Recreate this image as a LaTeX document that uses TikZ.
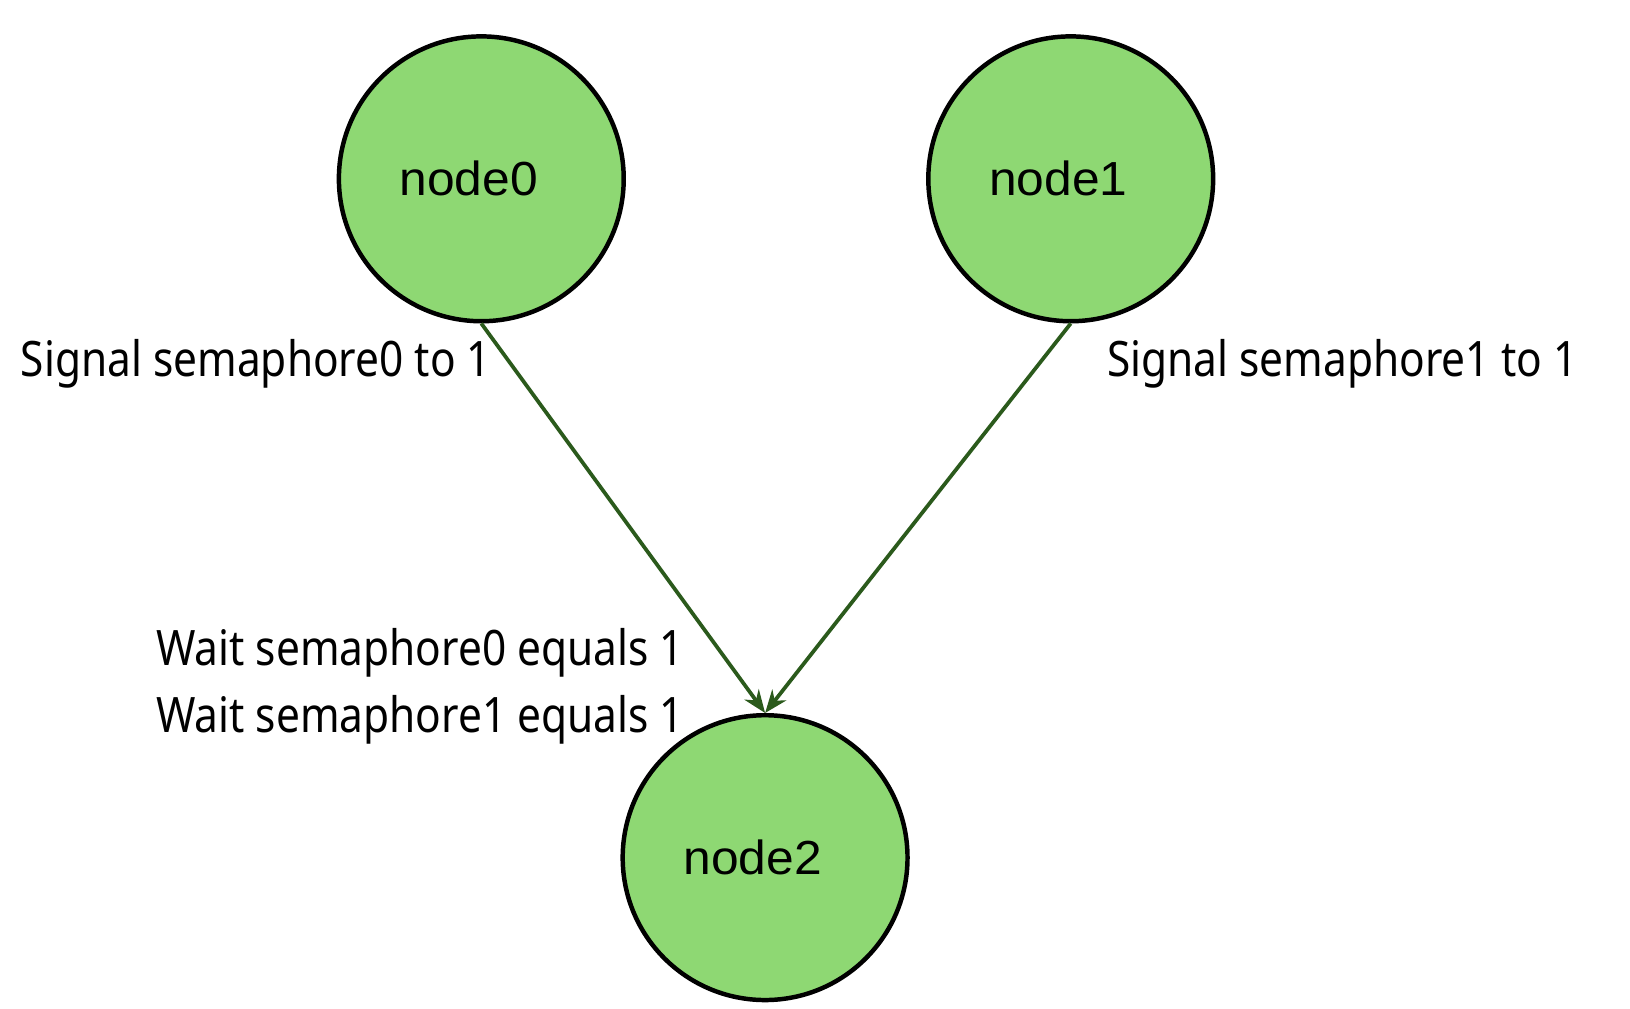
\documentclass[tikz,border=0pt]{standalone}
\usepackage{fontspec}
\setmainfont{Noto Sans}
\newfontfamily\lblfont{Noto Sans}[FakeStretch=0.868]
\newfontfamily\nodefont{Liberation Sans}[FakeStretch=1.04]
\usetikzlibrary{arrows.meta}
\definecolor{nodegreen}{HTML}{8ED873}
\definecolor{edgegreen}{HTML}{2B5A1C}
\begin{document}
\begin{tikzpicture}[x=1pt,y=1pt,
  vnode/.style={circle, draw=black, line width=4.3pt, fill=nodegreen, minimum size=274pt, inner sep=0pt, font=\nodefont\fontsize{46}{50}\selectfont, text=black},
  elabel/.style={font=\lblfont\fontsize{47}{52}\selectfont, inner sep=0pt, anchor=base west, text=black},
  conn/.style={draw=edgegreen, line width=3.6pt, -{Stealth[length=22pt,width=17pt,inset=7pt]}}]
\useasboundingbox[fill=white] (0,0) rectangle (1568,-970);
\node[vnode] (n0) at (463,-172) {\kern-24pt node0};
\node[vnode] (n1) at (1030,-172) {\kern-24pt node1};
\node[vnode] (n2) at (736,-825) {\kern-24pt node2};
\draw[conn] (n0.south) -- (n2.north);
\draw[conn] (n1.south) -- (n2.north);
\node[elabel] (l0) at (20,-362) {Signal semaphore0 to 1};
\node[elabel] (l1) at (1065,-362) {Signal semaphore1 to 1};
\node[elabel] (w0) at (150,-640) {Wait semaphore0 equals 1};
\node[elabel] (w1) at (150,-705) {Wait semaphore1 equals 1};
\end{tikzpicture}
\end{document}
